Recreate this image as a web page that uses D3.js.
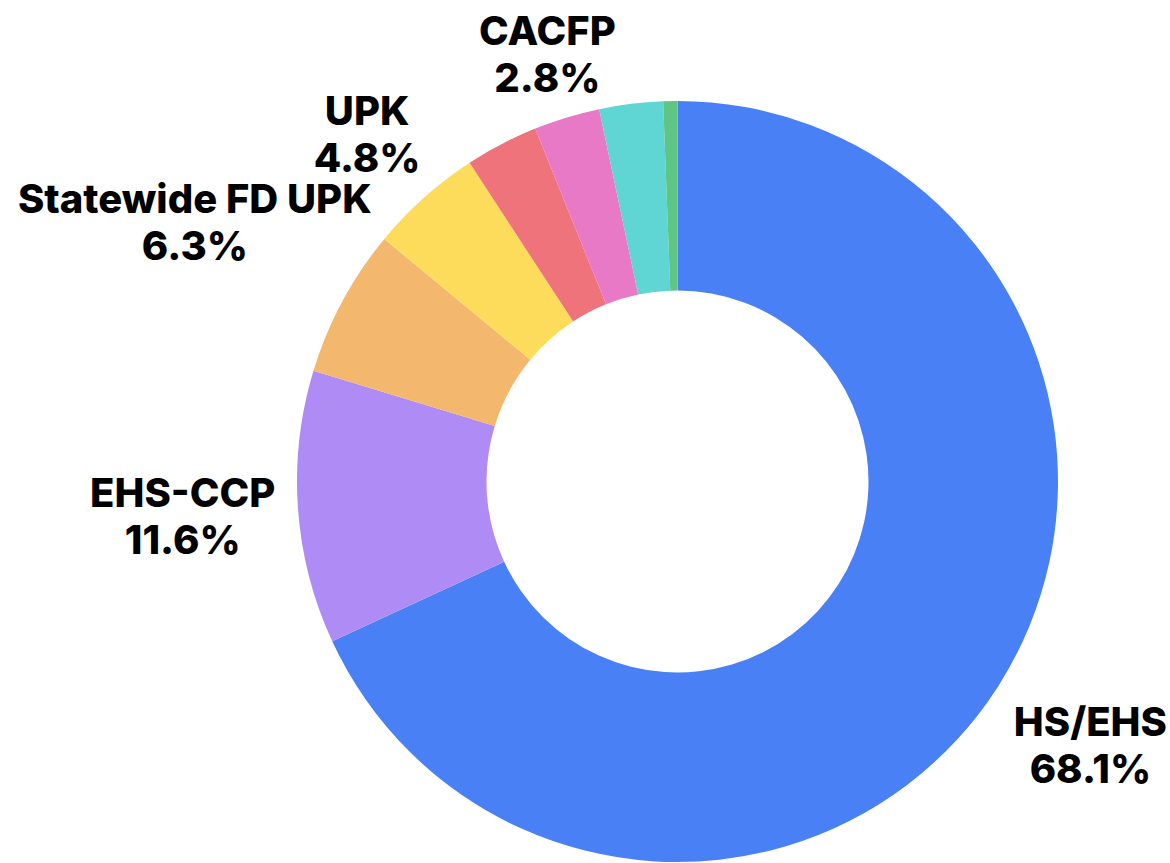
<!DOCTYPE html>
<html>
<head>
<meta charset="utf-8">
<script src="https://cdn.jsdelivr.net/npm/d3@7"></script>
<style>
  html, body { margin: 0; padding: 0; background: #ffffff; }
  svg { display: block; }
  .lbl { font-family: "Inter", "Noto Sans", sans-serif; font-weight: 800; fill: #000; }
</style>
</head>
<body>
<svg id="chart" width="1170" height="863"></svg>
<script>
// ---- data ----
const categories = ["HS/EHS", "EHS-CCP", "Statewide FD UPK", "UPK", "Other A", "CACFP", "Other B", "Other C"];
const values     = [68.1, 11.6, 6.3, 4.8, 3.1, 2.8, 2.7, 0.6];
const showLabel  = [true, true, true, true, false, true, false, false];
const colors     = ["#4a80f5", "#af8cf5", "#f3b76e", "#fddc5b", "#ee737b", "#e879c6", "#5fd5d4", "#5ec582"];
// layout: radial distance of each label centre
const labelRadius = [490, 496, 548, 466, 0, 447, 0, 0];

const W = 1170, H = 863;
const cx = 677.5, cy = 481.5;
const outerR = 380.5, innerR = 191;

const svg = d3.select("#chart");
const g = svg.append("g").attr("transform", `translate(${cx},${cy})`);

const pie = d3.pie().sort(null).value(d => d.value);
const data = categories.map((c, i) => ({ name: c, value: values[i], color: colors[i], show: showLabel[i], lr: labelRadius[i] }));
const arcs = pie(data);
const arc = d3.arc().innerRadius(innerR).outerRadius(outerR);

g.selectAll("path.slice")
  .data(arcs)
  .join("path")
  .attr("class", "slice")
  .attr("d", arc)
  .attr("fill", d => d.data.color);

const fmt = d3.format(".1f");
const fontSize = 40;
const lineGap = 47;

const labels = g.selectAll("g.label")
  .data(arcs.filter(d => d.data.show))
  .join("g")
  .attr("class", "label")
  .attr("transform", d => {
    const a = (d.startAngle + d.endAngle) / 2;
    const r = d.data.lr;
    return `translate(${r * Math.sin(a)},${-r * Math.cos(a)})`;
  });

labels.append("text")
  .attr("class", "lbl")
  .attr("text-anchor", "middle")
  .attr("font-size", fontSize)
  .attr("y", -9)
  .text(d => d.data.name);

labels.append("text")
  .attr("class", "lbl")
  .attr("text-anchor", "middle")
  .attr("font-size", fontSize)
  .attr("y", -9 + lineGap)
  .text(d => fmt(d.data.value) + "%");
</script>
</body>
</html>
